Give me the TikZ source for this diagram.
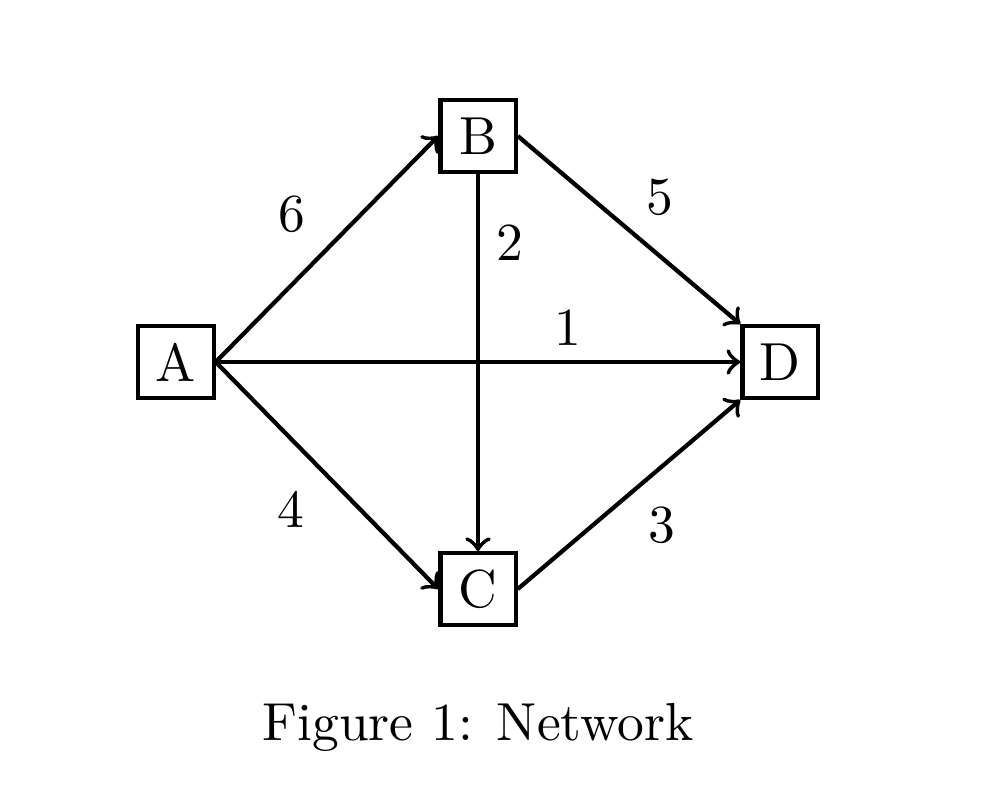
\documentclass[tikz,border=0pt]{standalone}
\begin{document}
\begin{tikzpicture}[x=0.18868pt,y=-0.18868pt,
  txt/.style={font=\fontsize{10.1}{12}\selectfont},
  box/.style={draw,thick,minimum width=14.2pt,minimum height=13.5pt,inner sep=0pt,txt},
  edge/.style={thick,->},
  lab/.style={txt}]
\useasboundingbox (0,0) rectangle (1008,788);
\node[box] (A) at (176,362) {A};
\node[box] (B) at (478,136) {B};
\node[box] (C) at (478,589) {C};
\node[box] (D) at (780,362) {D};
\draw[edge] (A.east) -- (B.west);
\draw[edge] (A.east) -- (C.west);
\draw[edge] (A.east) -- (D.west);
\draw[edge] (B.south) -- (C.north);
\draw[edge] (B.east) -- (D.north west);
\draw[edge] (C.east) -- (D.south west);
\node[lab] (l6) at (292,214) {6};
\node[lab] (l2) at (510,243) {2};
\node[lab] (l5) at (660,197) {5};
\node[lab] (l1) at (568,328) {1};
\node[lab] (l4) at (291,509) {4};
\node[lab] (l3) at (662,525) {3};
\node[txt] (cap) at (478,727) {Figure 1: Network};
\end{tikzpicture}
\end{document}
